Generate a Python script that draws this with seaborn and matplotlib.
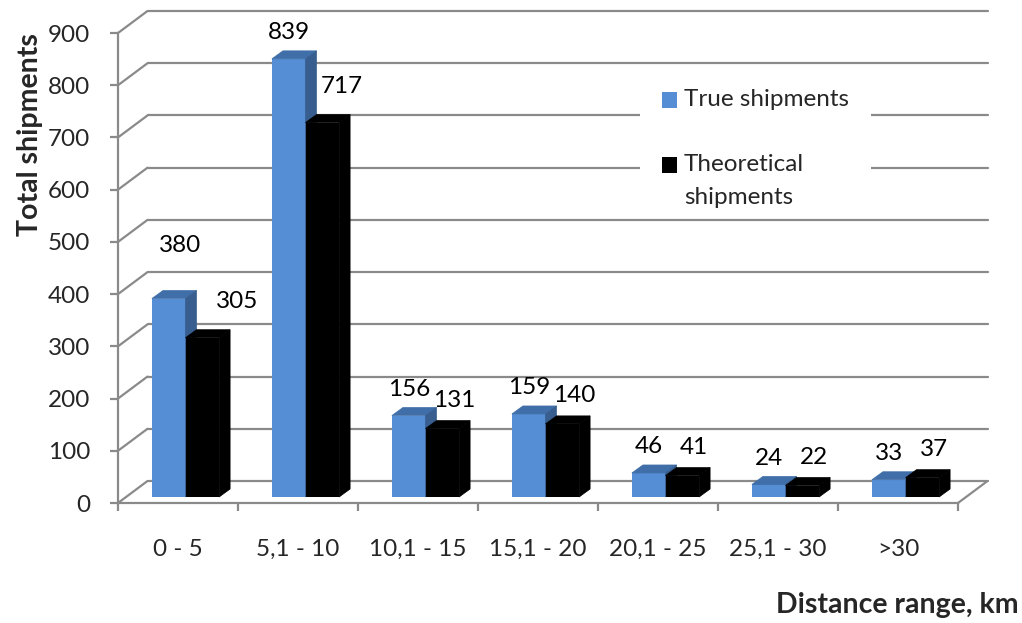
import matplotlib
matplotlib.use("Agg")
import matplotlib.pyplot as plt
from matplotlib.patches import Polygon, Rectangle
from matplotlib.ticker import FixedLocator, NullFormatter, FixedFormatter
import seaborn as sns
import pandas as pd

# ---------------- data ----------------
categories = ["0 - 5", "5,1 - 10", "10,1 - 15", "15,1 - 20", "20,1 - 25", "25,1 - 30", ">30"]
true_shipments = [380, 839, 156, 159, 46, 24, 33]
theoretical_shipments = [305, 717, 131, 140, 41, 22, 37]
series_names = ["True shipments", "Theoretical\nshipments"]
y_ticks = [0, 100, 200, 300, 400, 500, 600, 700, 800, 900]

# ---------------- style ----------------
W, H, DPI = 1022, 623, 100
FONT = "Lato"
FS = 17.5
FS_B = 20.5
BLUE, BLUE_TOP, BLUE_SIDE = "#558ED5", "#3F6EA8", "#375E8F"
BLACK = "#000000"
GRID = "#8A8A8A"

sns.set_theme(style="white")
plt.rcParams["font.family"] = [FONT, "DejaVu Sans"]

df = pd.DataFrame({
    "Distance": categories * 2,
    "Shipments": true_shipments + theoretical_shipments,
    "Series": [series_names[0]] * len(categories) + [series_names[1]] * len(categories),
})

fig = plt.figure(figsize=(W / DPI, H / DPI), dpi=DPI)
ax_left, ax_right, ax_top, ax_bot = 118, 988, 11, 503
ax = fig.add_axes([ax_left / W, 1 - ax_bot / H, (ax_right - ax_left) / W, (ax_bot - ax_top) / H])

sns.barplot(data=df, x="Distance", y="Shipments", hue="Series", order=categories,
            hue_order=series_names, palette=[BLUE, BLACK], width=0.56, ax=ax,
            legend=False, saturation=1, linewidth=0, errorbar=None)

ax.set_xlim(-0.5, 6.75)
ymax = (ax_bot - ax_top) / ((ax_bot - 33) / 900)
ax.set_ylim(0, ymax)

px_x = (ax_right - ax_left) / 7.25          # pixels per category unit
px_y = (ax_bot - ax_top) / ymax             # pixels per value unit

# back wall depth vector
wdx, wdy = 29.5 / px_x, 22 / px_y
# bar placement inside depth
sdx, sdy = 7.5 / px_x, 6 / px_y
# bar depth
bdx, bdy = 11 / px_x, 8 / px_y

# gridlines on back wall + diagonals on left wall
for v in y_ticks:
    ax.plot([-0.5, -0.5 + wdx], [v, v + wdy], color=GRID, lw=1.6, clip_on=False, zorder=0.5)
    ax.plot([-0.5 + wdx, 6.5 + wdx], [v + wdy, v + wdy], color=GRID, lw=1.6, clip_on=False, zorder=0.5)
# floor right edge
ax.plot([6.5, 6.5 + wdx], [0, wdy], color=GRID, lw=1.6, clip_on=False, zorder=0.5)

# legend mask (white box over gridlines)
def fx(p): return p / W
def fy(p): return 1 - p / H
fig.patches.append(Rectangle((fx(640), fy(212)), (871 - 640) / W, (212 - 78) / H,
                             transform=fig.transFigure, facecolor="white", edgecolor="none", zorder=1))

# 3D-ish bars
bars = [p for p in ax.patches if isinstance(p, Rectangle)]
n = len(categories)
label_nudge = {(0, 0): (11, 27), (1, 0): (23, 8), (1, 1): (8, 8)}  # (series, idx): (dx px, dy px)
for i, p in enumerate(bars[:2 * n]):
    s = i // n
    idx = i % n
    p.set_x(p.get_x() + sdx)
    p.set_y(sdy)
    x0, w, h = p.get_x(), p.get_width(), p.get_height()
    y0, y1 = sdy, sdy + h
    x1 = x0 + w
    z = 2 + s
    p.set_zorder(z)
    top_c, side_c = (BLUE_TOP, BLUE_SIDE) if s == 0 else (BLACK, BLACK)
    ax.add_patch(Polygon([(x0, y1), (x1, y1), (x1 + bdx, y1 + bdy), (x0 + bdx, y1 + bdy)],
                         closed=True, facecolor=top_c, edgecolor=top_c, lw=0.5, zorder=z))
    ax.add_patch(Polygon([(x1, y0), (x1, y1), (x1 + bdx, y1 + bdy), (x1 + bdx, y0 + bdy)],
                         closed=True, facecolor=side_c, edgecolor=side_c, lw=0.5, zorder=z))
    val = (true_shipments if s == 0 else theoretical_shipments)[idx]
    base_dx, base_dy = (0, 26) if s == 0 else (12, 28)
    ndx, ndy = label_nudge.get((s, idx), (0, 0))
    ax.annotate(f"{val}", xy=(x0 + w / 2, y1), xytext=(base_dx + ndx, base_dy + ndy),
                textcoords="offset pixels", ha="center", va="center",
                fontsize=FS, color="black", zorder=5)

# axes / spines
for sp in ["top", "right"]:
    ax.spines[sp].set_visible(False)
for sp in ["left", "bottom"]:
    ax.spines[sp].set_color(GRID)
    ax.spines[sp].set_linewidth(1.6)
ax.spines["left"].set_bounds(0, 900)
ax.spines["bottom"].set_bounds(-0.5, 6.5)

ax.set_yticks(y_ticks)
ax.set_yticklabels([str(t) for t in y_ticks])
ax.tick_params(axis="y", which="major", direction="out", length=6, width=1.6,
               color=GRID, pad=14, labelsize=FS, left=True)

ax.xaxis.set_major_locator(FixedLocator([i - 0.5 for i in range(n + 1)]))
ax.xaxis.set_major_formatter(NullFormatter())
ax.xaxis.set_minor_locator(FixedLocator(list(range(n))))
ax.xaxis.set_minor_formatter(FixedFormatter(categories))
ax.tick_params(axis="x", which="major", direction="out", length=6, width=1.6, color=GRID, bottom=True)
ax.tick_params(axis="x", which="minor", length=0, pad=26, labelsize=FS, bottom=True)
ax.set_xlabel("")
ax.set_ylabel("")
ax.patch.set_alpha(0)

# axis titles
fig.text(fx(30), fy(135), "Total shipments", rotation=90, ha="center", va="center",
         fontsize=FS_B, fontweight="bold")
fig.text(fx(1019), fy(605), "Distance range, km", ha="right", va="center",
         fontsize=FS_B, fontweight="bold")

# legend (manual, square markers aligned to first text line)
leg_items = [(series_names[0], BLUE, 100), (series_names[1], BLACK, 165)]
for name, col, yc in leg_items:
    fig.patches.append(Rectangle((fx(662), fy(yc + 7.5)), 15 / W, 15 / H,
                                 transform=fig.transFigure, facecolor=col, edgecolor="none", zorder=2))
    for k, line in enumerate(name.split("\n")):
        fig.text(fx(684), fy(yc + 32 * k), line, ha="left", va="center", fontsize=FS, zorder=3)

fig.savefig("out.png", dpi=DPI)
